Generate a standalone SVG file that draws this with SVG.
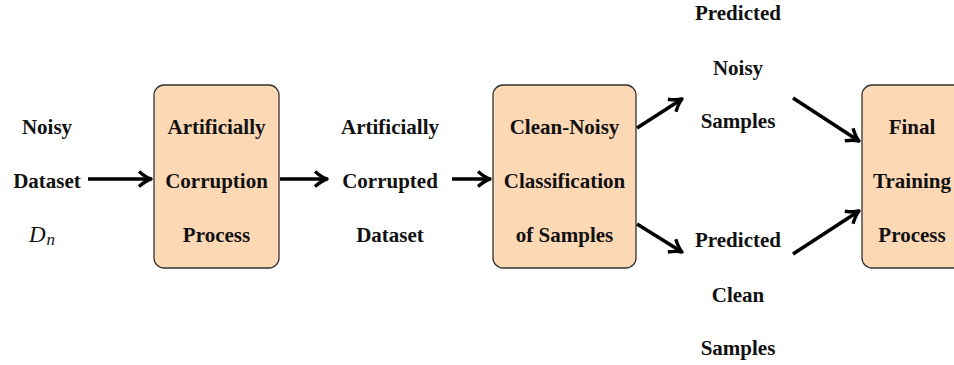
<svg xmlns="http://www.w3.org/2000/svg" width="954" height="365" viewBox="0 0 954 365">
<style>
.box{fill:#FDD8B5;stroke:#333;stroke-width:1.3}
.t{font-family:"Liberation Serif",serif;font-weight:bold;font-size:21px;text-anchor:middle;fill:#111}
.c{stroke:#000;stroke-width:3.6;fill:none;marker-end:url(#ah)}
</style>
<defs>
<marker id="ah" markerUnits="userSpaceOnUse" markerWidth="20" markerHeight="20" refX="1" refY="0" viewBox="-14 -10 20 20" orient="auto">
<path d="M-11,-7.5 Q-4,-1.5 1,0 Q-4,1.5 -11,7.5" fill="none" stroke="#000" stroke-width="3.4" stroke-linejoin="round"/>
</marker>
</defs>
<rect width="954" height="365" fill="#fff"/>
<g id="input">
<text class="t" x="47" y="134">Noisy</text>
<text class="t" x="47" y="188">Dataset</text>
<text x="42" y="242" font-family="Liberation Serif,serif" font-style="italic" font-size="23" text-anchor="middle" fill="#111">D<tspan font-size="17" dy="3" dx="1">n</tspan></text>
</g>
<g id="corruption">
<rect class="box" x="154" y="85" width="125" height="183" rx="10"/>
<text class="t" x="216.5" y="134">Artificially</text>
<text class="t" x="216.5" y="188">Corruption</text>
<text class="t" x="216.5" y="242">Process</text>
</g>
<g id="corrupted">
<text class="t" x="390" y="134">Artificially</text>
<text class="t" x="390" y="188">Corrupted</text>
<text class="t" x="390" y="242">Dataset</text>
</g>
<g id="classification">
<rect class="box" x="493" y="85" width="143" height="183" rx="10"/>
<text class="t" x="564.5" y="134">Clean-Noisy</text>
<text class="t" x="564.5" y="188">Classification</text>
<text class="t" x="564.5" y="242">of Samples</text>
</g>
<g id="noisy">
<text class="t" x="738" y="20">Predicted</text>
<text class="t" x="738" y="75">Noisy</text>
<text class="t" x="738" y="128">Samples</text>
</g>
<g id="clean">
<text class="t" x="738" y="247">Predicted</text>
<text class="t" x="738" y="302">Clean</text>
<text class="t" x="738" y="355">Samples</text>
</g>
<g id="final">
<rect class="box" x="862" y="85" width="110" height="183" rx="10"/>
<text class="t" x="912" y="134">Final</text>
<text class="t" x="912" y="188">Training</text>
<text class="t" x="912" y="242">Process</text>
</g>
<g id="connectors">
<line class="c" x1="88" y1="179" x2="151" y2="179"/>
<line class="c" x1="280" y1="179" x2="327" y2="179"/>
<line class="c" x1="452" y1="179" x2="490" y2="179"/>
<line class="c" x1="637" y1="128" x2="682" y2="99"/>
<line class="c" x1="637" y1="224" x2="682" y2="252"/>
<line class="c" x1="793" y1="98" x2="859" y2="141"/>
<line class="c" x1="793" y1="254" x2="859" y2="211"/>
</g>
</svg>
